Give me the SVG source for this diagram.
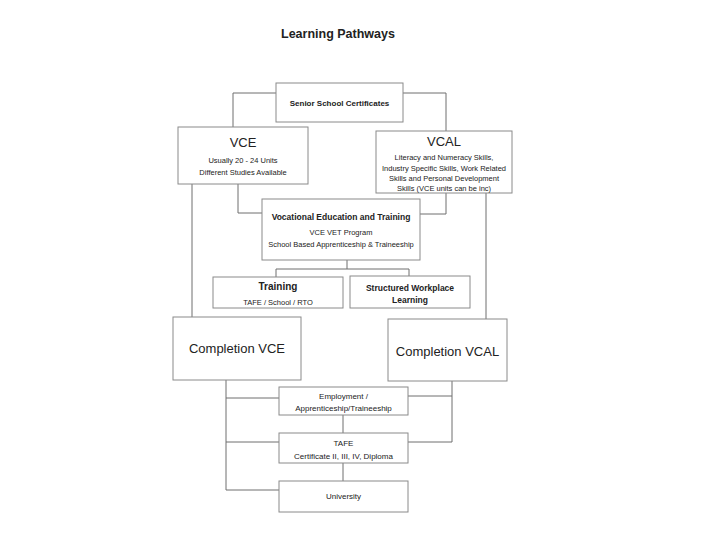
<svg xmlns="http://www.w3.org/2000/svg" width="720" height="540" viewBox="0 0 720 540">
<defs>
<style>
.bx{fill:#fff;stroke:#8a8a8a;stroke-width:1}
.ln{fill:none;stroke:#6e6e6e;stroke-width:1}
text{font-family:"Liberation Sans",Arial,sans-serif;fill:#222;text-anchor:middle}
.b{font-weight:bold}
</style>
</defs>
<rect width="720" height="540" fill="#fff"/>
<text x="338" y="38" class="b" font-size="12.5">Learning Pathways</text>
<g id="connectors">
<polyline class="ln" points="276,93 233,93 233,127"/>
<polyline class="ln" points="403,93 446,93 446,131"/>
<line class="ln" x1="192" y1="184" x2="192" y2="317"/>
<polyline class="ln" points="238,184 238,213 262,213"/>
<polyline class="ln" points="446,193 446,214 420,214"/>
<line class="ln" x1="486" y1="193" x2="486" y2="319"/>
<polyline class="ln" points="347,260 347,269"/>
<polyline class="ln" points="276,277 276,269 409,269 409,276"/>
<polyline class="ln" points="226,380 226,490 279,490"/>
<line class="ln" x1="226" y1="398" x2="279" y2="398"/>
<line class="ln" x1="226" y1="442" x2="279" y2="442"/>
<line class="ln" x1="343" y1="415" x2="343" y2="433"/>
<line class="ln" x1="343" y1="463" x2="343" y2="481"/>
<polyline class="ln" points="408,396 452,396"/>
<polyline class="ln" points="452,381 452,442 408,442"/>
</g>
<g id="senior">
<rect class="bx" x="276" y="83" width="127" height="39"/>
<text x="339.5" y="106" class="b" font-size="8">Senior School Certificates</text>
</g>
<g id="vce">
<rect class="bx" x="178" y="127" width="130" height="57"/>
<text x="243" y="147" font-size="13">VCE</text>
<text x="243" y="163" font-size="7.5">Usually 20 - 24 Units</text>
<text x="243" y="175" font-size="7.5">Different Studies Available</text>
</g>
<g id="vcal">
<rect class="bx" x="376" y="131" width="136" height="62"/>
<text x="444" y="146" font-size="13">VCAL</text>
<text x="444" y="160" font-size="7.5">Literacy and Numeracy Skills,</text>
<text x="444" y="170.5" font-size="7.5">Industry Specific Skills, Work Related</text>
<text x="444" y="181" font-size="7.5">Skills and Personal Development</text>
<text x="444" y="191" font-size="7.5">Skills (VCE units can be inc)</text>
</g>
<g id="vet">
<rect class="bx" x="262" y="199" width="158" height="61"/>
<text x="341" y="220" class="b" font-size="8.5">Vocational Education and Training</text>
<text x="341" y="234.5" font-size="7.5">VCE VET Program</text>
<text x="341" y="247" font-size="7.5">School Based Apprenticeship &amp; Traineeship</text>
</g>
<g id="training">
<rect class="bx" x="213" y="277" width="130" height="31"/>
<text x="278" y="290" class="b" font-size="10">Training</text>
<text x="278" y="305" font-size="7.5">TAFE / School / RTO</text>
</g>
<g id="swl">
<rect class="bx" x="350" y="276" width="120" height="32"/>
<text x="410" y="291" class="b" font-size="8.5">Structured Workplace</text>
<text x="410" y="303" class="b" font-size="8.5">Learning</text>
</g>
<g id="compvce">
<rect class="bx" x="173" y="317" width="128" height="63"/>
<text x="237" y="353" font-size="13">Completion VCE</text>
</g>
<g id="compvcal">
<rect class="bx" x="388" y="319" width="119" height="62"/>
<text x="447.5" y="356" font-size="13">Completion VCAL</text>
</g>
<g id="employment">
<rect class="bx" x="279" y="387" width="129" height="28"/>
<text x="343.5" y="399" font-size="8">Employment /</text>
<text x="343.5" y="411" font-size="8">Apprenticeship/Traineeship</text>
</g>
<g id="tafe">
<rect class="bx" x="279" y="433" width="129" height="30"/>
<text x="343.5" y="446" font-size="8">TAFE</text>
<text x="343.5" y="459" font-size="8">Certificate II, III, IV, Diploma</text>
</g>
<g id="university">
<rect class="bx" x="279" y="481" width="129" height="31"/>
<text x="343.5" y="499" font-size="8">University</text>
</g>
</svg>
